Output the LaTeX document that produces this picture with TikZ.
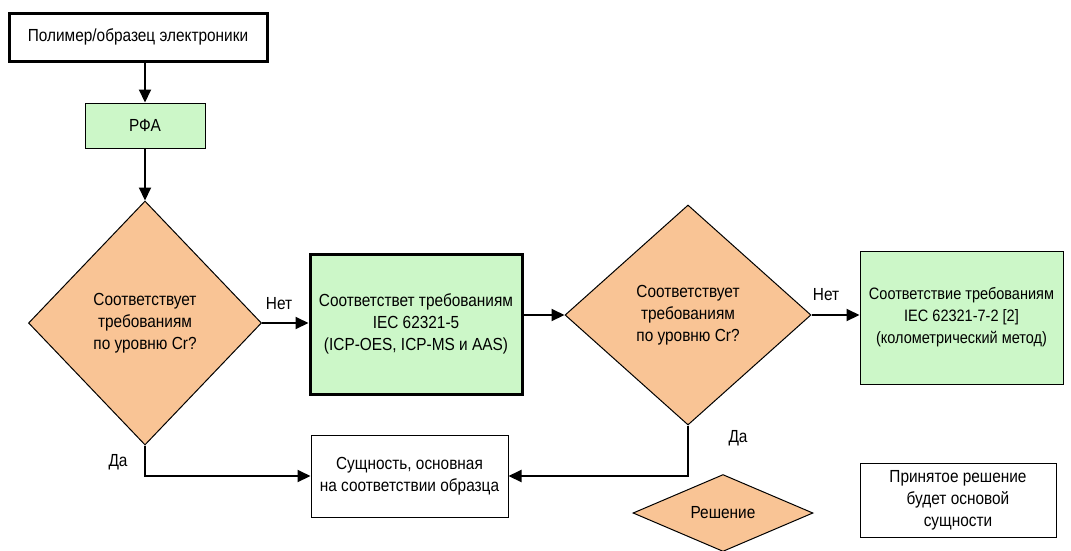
\documentclass[tikz,border=0pt]{standalone}
\usepackage{fontspec}
\setmainfont[FakeStretch=0.88]{Liberation Sans}
\usetikzlibrary{shapes.geometric,arrows.meta}
\definecolor{peach}{HTML}{F9C495}
\definecolor{mint}{HTML}{CCF7C8}
\tikzset{
  txt/.style={font=\fontsize{17.5}{22}\selectfont},
  box/.style={draw=black, rectangle, inner sep=2pt, align=center, txt},
  thickbox/.style={box, line width=3pt},
  thinbox/.style={box, line width=1pt},
  decision/.style={draw=black, diamond, fill=peach, line width=1pt, inner sep=0pt, align=center, txt},
  arr/.style={line width=2pt, -{Triangle[length=13pt,width=12pt]}},
  lbl/.style={txt}
}
\begin{document}
\begin{tikzpicture}[x=1pt,y=-1pt]
\useasboundingbox (0,0) rectangle (1071,550);
\node[thickbox, minimum width=258pt, minimum height=48pt] (start) at (138,37) {Полимер/образец электроники};
\node[thinbox, fill=mint, minimum width=120pt, minimum height=45pt] (rfa) at (145,125.5) {РФА};
\node[decision, minimum width=233pt, minimum height=244pt] (d1) at (145,323) {Соответствует\\требованиям\\по уровню Cr?};
\node[thickbox, fill=mint, minimum width=212pt, minimum height=140pt] (icp) at (416,324) {Соответствет требованиям\\IEC 62321-5\\(ICP-OES, ICP-MS и AAS)};
\node[thinbox, fill=white, minimum width=197pt, minimum height=82pt] (ent) at (409.5,476) {Сущность, основная\\на соответствии образца};
\node[decision, minimum width=246pt, minimum height=220pt] (d2) at (688,315) {Соответствует\\требованиям\\по уровню Cr?};
\node[thinbox, fill=mint, minimum width=203pt, minimum height=133pt, font=\fontsize{16.5}{22}\selectfont] (col) at (961.5,317.5) {Соответствие требованиям\\IEC 62321-7-2 [2]\\(колометрический метод)};
\node[decision, minimum width=180pt, minimum height=70pt] (dec) at (723,513) {Решение};
\node[thinbox, fill=white, minimum width=196pt, minimum height=74pt] (note) at (958,500) {Принятое решение\\будет основой\\сущности};
\draw[arr] (start.south -| rfa) -- (rfa.north);
\draw[arr] (rfa.south) -- (d1.north);
\draw[arr] (d1.east) -- (icp.west |- d1.east);
\draw[arr] (icp.east |- d2.west) -- (d2.west);
\draw[arr] (d2.east) -- (col.west |- d2.east);
\coordinate (c1) at (d1.south |- ent.west);
\coordinate (c2) at (d2.south |- ent.east);
\draw[arr] (d1.south) -- (c1) -- (ent.west);
\draw[arr] (d2.south) -- (c2) -- (ent.east);
\node[lbl] (n1) at (279,304) {Нет};
\node[lbl] (n2) at (826,295) {Нет};
\node[lbl] (y1) at (118,462) {Да};
\node[lbl] (y2) at (738,438) {Да};
\end{tikzpicture}
\end{document}
